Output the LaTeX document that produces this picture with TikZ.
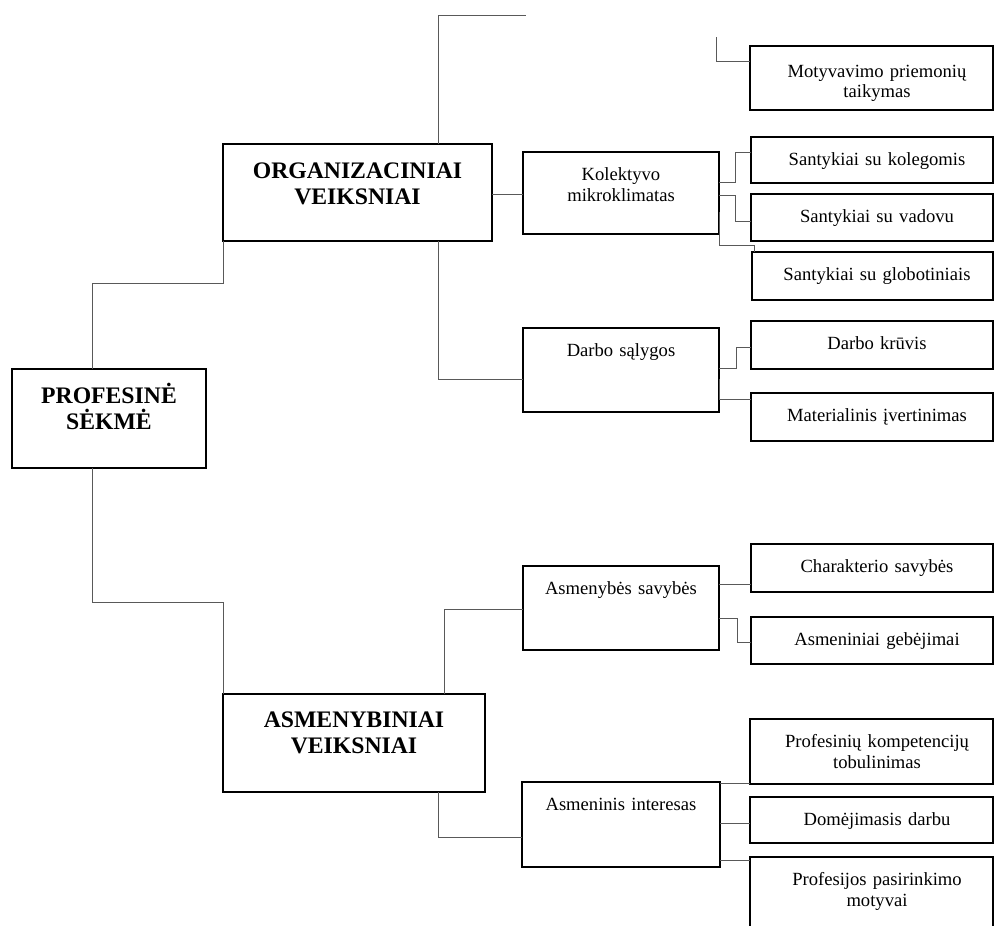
\documentclass[tikz,border=0pt]{standalone}
\usepackage{fontspec}
\setmainfont{Liberation Serif}
\tikzset{
  box/.style={draw=black, line width=2.2pt, inner sep=0pt, outer sep=0pt, anchor=north west},
  conn/.style={draw=black!65, line width=1pt},
  txt/.style={font=\fontsize{18.6}{20.7}\selectfont, align=center, text width=236pt, inner sep=0pt, anchor=base},
  btxt/.style={font=\fontsize{23.7}{26}\selectfont\bfseries, align=center, text width=262pt, inner sep=0pt, anchor=base}
}
\begin{document}
\begin{tikzpicture}[x=1pt,y=-1pt]
\useasboundingbox (0,0) rectangle (994,926);
\clip (0,0) rectangle (994,926);
% boxes
\node[box, minimum width=194pt, minimum height=99pt] (prof) at (12,369) {};
\node[box, minimum width=269pt, minimum height=97pt] (org) at (223,144) {};
\node[box, minimum width=262pt, minimum height=98pt] (asm) at (223,694) {};
\node[box, minimum width=196pt, minimum height=82pt] (kol) at (523,152) {};
\node[box, minimum width=196pt, minimum height=84pt] (darb) at (523,328) {};
\node[box, minimum width=196pt, minimum height=84pt] (asav) at (523,566) {};
\node[box, minimum width=198pt, minimum height=85pt] (aint) at (522,782) {};
\node[box, minimum width=243pt, minimum height=64pt] (mot) at (750,46) {};
\node[box, minimum width=242pt, minimum height=46pt] (kolg) at (751,137) {};
\node[box, minimum width=242pt, minimum height=47pt] (vad) at (751,194) {};
\node[box, minimum width=241pt, minimum height=48pt] (glob) at (752,252) {};
\node[box, minimum width=242pt, minimum height=48pt] (kruv) at (751,321) {};
\node[box, minimum width=242pt, minimum height=48pt] (mat) at (751,393) {};
\node[box, minimum width=242pt, minimum height=48pt] (char) at (751,544) {};
\node[box, minimum width=242pt, minimum height=47pt] (geb) at (751,617) {};
\node[box, minimum width=243pt, minimum height=65pt] (pkt) at (750,719) {};
\node[box, minimum width=243pt, minimum height=46pt] (dom) at (750,797) {};
\node[box, minimum width=243pt, minimum height=100pt] (pasi) at (750,857) {};
% texts
\node[btxt] (prof-t) at (109,403) {PROFESINĖ\\SĖKMĖ};
\node[btxt] (org-t) at (357.5,178) {ORGANIZACINIAI\\VEIKSNIAI};
\node[btxt] (asm-t) at (354,727) {ASMENYBINIAI\\VEIKSNIAI};
\node[txt] (kol-t) at (621,180.5) {Kolektyvo\\mikroklimatas};
\node[txt] (darb-t) at (621,356.5) {Darbo sąlygos};
\node[txt] (asav-t) at (621,594.5) {Asmenybės savybės};
\node[txt] (aint-t) at (621,810.5) {Asmeninis interesas};
\node[txt] (mot-t) at (877,77) {Motyvavimo priemonių\\taikymas};
\node[txt] (kolg-t) at (877,165.5) {Santykiai su kolegomis};
\node[txt] (vad-t) at (877,222.5) {Santykiai su vadovu};
\node[txt] (glob-t) at (877,280.5) {Santykiai su globotiniais};
\node[txt] (kruv-t) at (877,349.5) {Darbo krūvis};
\node[txt] (mat-t) at (877,421.5) {Materialinis įvertinimas};
\node[txt] (char-t) at (877,572.5) {Charakterio savybės};
\node[txt] (geb-t) at (877,645.5) {Asmeniniai gebėjimai};
\node[txt] (pkt-t) at (877,747.5) {Profesinių kompetencijų\\tobulinimas};
\node[txt] (dom-t) at (877,825.5) {Domėjimasis darbu};
\node[txt] (pasi-t) at (877,885.5) {Profesijos pasirinkimo\\motyvai};
% connectors
\coordinate (a1) at (92,283);
\draw[conn] (prof.north -| a1) -- (a1) -| (org.south west);
\coordinate (b1) at (438,15); \coordinate (b2) at (526,15);
\draw[conn] (org.north -| b1) -- (b1) -- (b2);
\coordinate (c1) at (0,194.5);
\draw[conn] (org.east |- c1) -- (kol.west |- c1);
\coordinate (d1) at (438,379);
\draw[conn] (org.south -| d1) -- (d1) -- (darb.west |- d1);
\coordinate (e0) at (716,37); \coordinate (e1) at (716,61);
\draw[conn] (e0) -- (e1) -- (mot.west |- e1);
\coordinate (f1) at (735,182); \coordinate (f2) at (735,152);
\draw[conn] (kol.east |- f1) -- (f1) -- (f2) -- (kolg.west |- f2);
\coordinate (g1) at (735,195); \coordinate (g2) at (735,221);
\draw[conn] (kol.east |- g1) -- (g1) -- (g2) -- (vad.west |- g2);
\coordinate (h0) at (0,212); \coordinate (h1) at (0,245); \coordinate (h2) at (754,245);
\draw[conn] (kol.east |- h0) -- (kol.east |- h1) -- (h2) -- (glob.north -| h2);
\coordinate (i1) at (736,368); \coordinate (i2) at (736,347);
\draw[conn] (darb.east |- i1) -- (i1) -- (i2) -- (kruv.west |- i2);
\coordinate (j1) at (0,379); \coordinate (j2) at (0,399);
\draw[conn] (darb.east |- j1) -- (darb.east |- j2) -- (mat.west |- j2);
\coordinate (k1) at (444,609);
\draw[conn] (asm.north -| k1) -- (k1) -- (asav.west |- k1);
\coordinate (l1) at (438,837);
\draw[conn] (asm.south -| l1) -- (l1) -- (aint.west |- l1);
\coordinate (m1) at (92,602);
\draw[conn] (prof.south -| m1) -- (m1) -| (asm.north west);
\coordinate (n1) at (0,584);
\draw[conn] (asav.east |- n1) -- (char.west |- n1);
\coordinate (o1) at (737,618); \coordinate (o2) at (737,642);
\draw[conn] (asav.east |- o1) -- (o1) -- (o2) -- (geb.west |- o2);
\coordinate (p1) at (0,783);
\draw[conn] (aint.east |- p1) -- (pkt.west |- p1);
\coordinate (q1) at (0,823);
\draw[conn] (aint.east |- q1) -- (dom.west |- q1);
\coordinate (r1) at (0,860);
\draw[conn] (aint.east |- r1) -- (pasi.west |- r1);
\end{tikzpicture}
\end{document}
